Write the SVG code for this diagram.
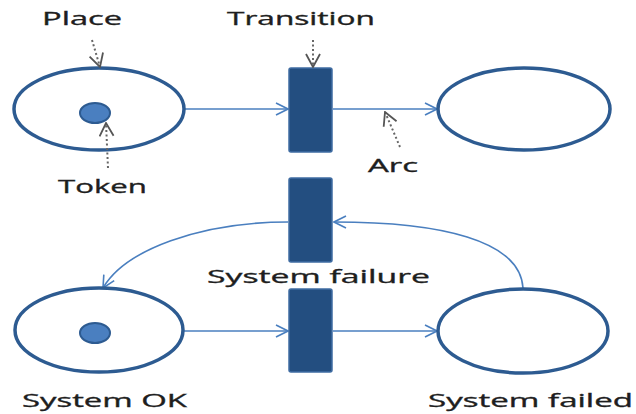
<svg xmlns="http://www.w3.org/2000/svg" width="636" height="414" viewBox="0 0 636 414">
<defs>
<style>
.place{fill:#fff;stroke:#2d5b91;stroke-width:3.5}
.token{fill:#4a7fc0;stroke:#2d5b91;stroke-width:2}
.trans{fill:#234e80;stroke:#3f6ca2;stroke-width:1.5}
.arc{fill:none;stroke:#4a7fbf;stroke-width:1.6}
.ptr{fill:none;stroke:#666;stroke-width:2;stroke-dasharray:2 2.5}
.lbl{font-family:"Open Sans","DejaVu Sans",sans-serif;font-size:19px;fill:#1e1e1e;stroke:#1e1e1e;stroke-width:0.35}
</style>
<marker id="ah" viewBox="0 0 14 14" refX="13" refY="7" markerWidth="14" markerHeight="14" markerUnits="userSpaceOnUse" orient="auto">
<path d="M1,1 L13,7 L1,13" fill="none" stroke="#4a7fbf" stroke-width="1.6"/>
</marker>
<marker id="ph" viewBox="0 0 16 16" refX="15" refY="8" markerWidth="16" markerHeight="16" markerUnits="userSpaceOnUse" orient="auto">
<path d="M2,1 L15,8 L2,15" fill="none" stroke="#555" stroke-width="1.8"/>
</marker>
</defs>
<rect width="636" height="414" fill="#fff"/>
<g id="connectors">
<line class="arc" x1="185" y1="109" x2="288" y2="109" marker-end="url(#ah)"/>
<line class="arc" x1="333" y1="109" x2="437" y2="109" marker-end="url(#ah)"/>
<line class="arc" x1="183" y1="331" x2="288" y2="331" marker-end="url(#ah)"/>
<line class="arc" x1="333" y1="331" x2="437" y2="331" marker-end="url(#ah)"/>
<path class="arc" d="M523,288 C520,240 440,222 334,222" marker-end="url(#ah)"/>
<path class="arc" d="M288,222 C200,222 125,250 103,288" marker-end="url(#ah)"/>
</g>
<g id="place1">
<ellipse class="place" cx="99" cy="109" rx="85" ry="41"/>
<ellipse class="token" cx="95" cy="113" rx="15" ry="10"/>
</g>
<g id="transition1"><rect class="trans" x="289" y="68" width="43" height="84" rx="2"/></g>
<g id="place2"><ellipse class="place" cx="524" cy="109" rx="86" ry="41"/></g>
<g id="transition2"><rect class="trans" x="289" y="178" width="43" height="84" rx="2"/></g>
<g id="transition3"><rect class="trans" x="289" y="289" width="43" height="83" rx="2"/></g>
<g id="place3">
<ellipse class="place" cx="99" cy="330" rx="84" ry="42"/>
<ellipse class="token" cx="95" cy="333" rx="15" ry="10"/>
</g>
<g id="place4"><ellipse class="place" cx="523" cy="331" rx="85" ry="42"/></g>
<g id="pointers">
<line class="ptr" x1="92" y1="40" x2="100" y2="67" marker-end="url(#ph)"/>
<line class="ptr" x1="313" y1="40" x2="313" y2="67" marker-end="url(#ph)"/>
<line class="ptr" x1="108" y1="168" x2="106" y2="123" marker-end="url(#ph)"/>
<line class="ptr" x1="400" y1="147" x2="385" y2="112" marker-end="url(#ph)"/>
</g>
<g id="labels">
<text class="lbl" x="42" y="25" textLength="80" lengthAdjust="spacingAndGlyphs">Place</text>
<text class="lbl" x="227" y="25" textLength="148" lengthAdjust="spacingAndGlyphs">Transition</text>
<text class="lbl" x="58" y="193" textLength="89" lengthAdjust="spacingAndGlyphs">Token</text>
<text class="lbl" x="368" y="172" textLength="50" lengthAdjust="spacingAndGlyphs">Arc</text>
<text class="lbl" x="207" y="283" textLength="223" lengthAdjust="spacingAndGlyphs">System failure</text>
<text class="lbl" x="22" y="407" textLength="165" lengthAdjust="spacingAndGlyphs">System OK</text>
<text class="lbl" x="428" y="407" textLength="205" lengthAdjust="spacingAndGlyphs">System failed</text>
</g>
</svg>
